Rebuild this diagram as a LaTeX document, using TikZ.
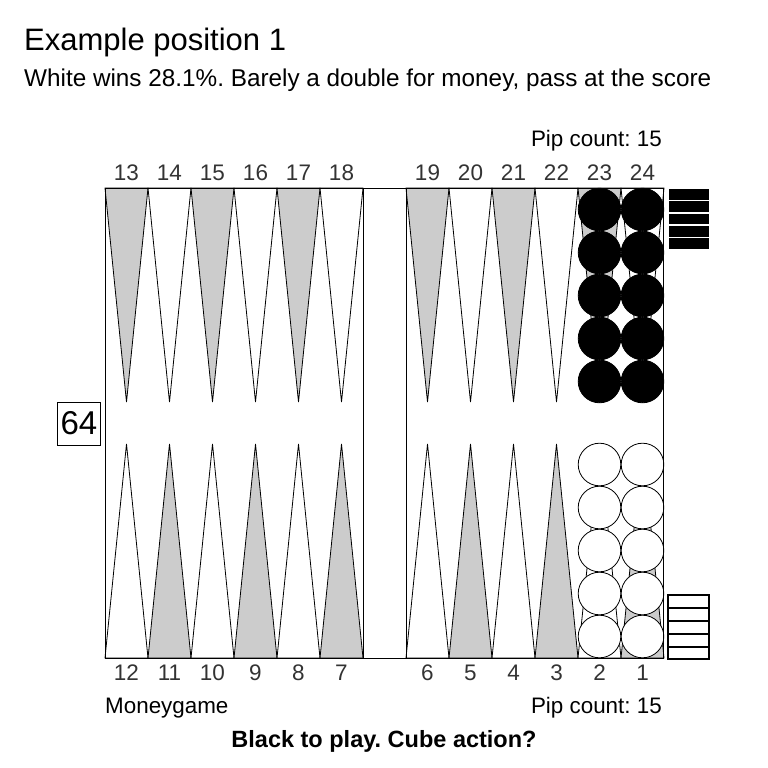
\documentclass[tikz,border=0pt]{standalone}
\usepackage{fontspec}
\setmainfont{Liberation Sans}
\frenchspacing
\begin{document}
\begin{tikzpicture}[x=1pt,y=-1pt,
  numlbl/.style={inner sep=0, anchor=base, text=num, font=\fontsize{22.5}{22.5}\selectfont},
  txt/.style={inner sep=0, font=\fontsize{22.4}{22.4}\selectfont},
  tri/.style={draw=black, line width=0.8pt},
  blackchk/.style={fill=black, draw=black, line width=0.8pt},
  whitechk/.style={fill=white, draw=black, line width=0.8pt}]
\definecolor{ptgrey}{HTML}{CCCCCC}
\definecolor{num}{HTML}{333333}
\useasboundingbox (0,0) rectangle (768,768);
% points
\foreach \xl [count=\k from 0] in {105,148,191,234,277,320,406,449,492,535,578,621} {
  \ifodd\k
    \filldraw[tri, fill=white] (\xl,188) -- (\xl+43,188) -- (\xl+21.5,402) -- cycle;
    \filldraw[tri, fill=ptgrey] (\xl,658) -- (\xl+43,658) -- (\xl+21.5,444) -- cycle;
  \else
    \filldraw[tri, fill=ptgrey] (\xl,188) -- (\xl+43,188) -- (\xl+21.5,402) -- cycle;
    \filldraw[tri, fill=white] (\xl,658) -- (\xl+43,658) -- (\xl+21.5,444) -- cycle;
  \fi
}
% top numbers
\foreach \xl/\n in {105/13,148/14,191/15,234/16,277/17,320/18,406/19,449/20,492/21,535/22,578/23,621/24}
  \node[numlbl] (t\n) at (\xl+21.5,180) {\n};
\foreach \xl/\n in {105/12,148/11,191/10,234/9,277/8,320/7,406/6,449/5,492/4,535/3,578/2,621/1}
  \node[numlbl] (b\n) at (\xl+21.5,680.5) {\n};
% checkers
\foreach \j in {0,...,4} {
  \filldraw[blackchk] (599.5,209.5+43*\j) circle (21.3);
  \filldraw[blackchk] (642.5,209.5+43*\j) circle (21.3);
  \filldraw[whitechk] (599.5,636.5-43*\j) circle (21.3);
  \filldraw[whitechk] (642.5,636.5-43*\j) circle (21.3);
}
% board frame and bar
\draw[line width=1pt] (105,188) rectangle (663,658);
\draw[line width=1pt] (363,188) -- (363,658);
\draw[line width=1pt] (406,188) -- (406,658);
% bear-off trays
\foreach \j in {0,...,4}
  \fill[black] (669,189+12.3*\j) rectangle (709,199.8+12.3*\j);
\draw[line width=1.6pt] (668,595) rectangle (709,659);
\foreach \yy in {608,621,634,647}
  \draw[line width=1.6pt] (668,\yy) -- (709,\yy);
% cube
\node[draw, line width=0.8pt, minimum size=43, inner sep=0, font=\fontsize{33}{33}\selectfont] (cube) at (79,423.5) {64};
% texts
\node[inner sep=0, anchor=base west, font=\fontsize{31}{31}\selectfont] (title) at (24,51) {Example position 1};
\node[inner sep=0, anchor=base west, font=\fontsize{24.3}{24.3}\selectfont] (sub) at (24,86.7) {White wins 28.1\%. Barely a double for money, pass at the score};
\node[txt, anchor=base east] (piptop) at (662,146) {Pip count: 15};
\node[txt, anchor=base east] (pipbot) at (662,713) {Pip count: 15};
\node[txt, anchor=base west] (money) at (105,713) {Moneygame};
\node[inner sep=0, anchor=base, font=\bfseries\fontsize{23.5}{23.5}\selectfont] (play) at (384,747) {Black to play. Cube action?};
\end{tikzpicture}
\end{document}
